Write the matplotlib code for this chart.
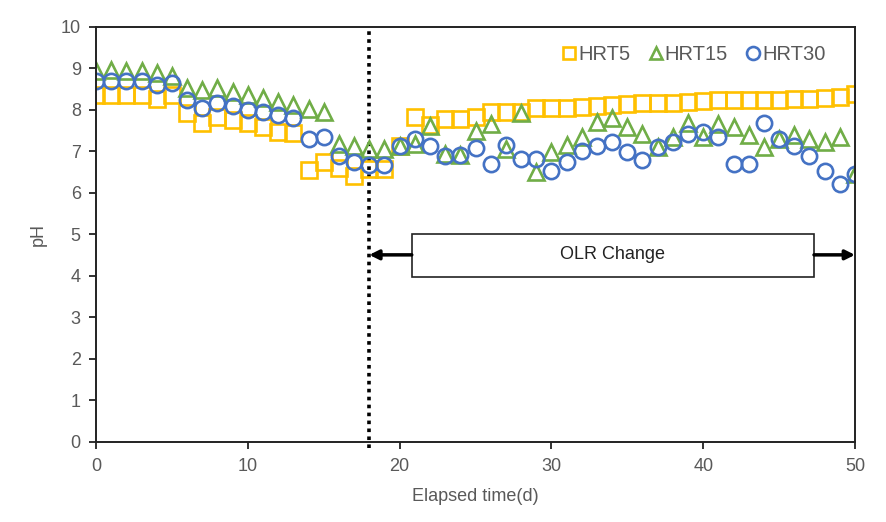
import numpy as np
import matplotlib
matplotlib.use("Agg")
import matplotlib.pyplot as plt

plt.rcParams['font.family'] = ['Liberation Sans', 'DejaVu Sans']

# Días transcurridos y pH de cada reactor
days = list(range(0, 51))

hrt5 = [8.35, 8.35, 8.35, 8.35, 8.25, 8.35, 7.92, 7.67, 7.82, 7.75,
        7.67, 7.59, 7.47, 7.43, 6.54, 6.73, 6.59, 6.41, 6.58, 6.58,
        7.13, 7.83, 7.62, 7.77, 7.77, 7.83, 7.95, 7.95, 7.95, 8.03,
        8.03, 8.05, 8.07, 8.09, 8.11, 8.13, 8.15, 8.16, 8.17, 8.19,
        8.21, 8.22, 8.23, 8.23, 8.23, 8.24, 8.25, 8.25, 8.27, 8.31,
        8.37]

hrt15 = [8.93, 8.95, 8.92, 8.92, 8.88, 8.8, 8.53, 8.47, 8.51, 8.43,
         8.35, 8.27, 8.19, 8.11, 8.01, 7.95, 7.18, 7.13, 7.06, 7.05,
         7.12, 7.18, 7.61, 6.92, 6.9, 7.49, 7.65, 7.06, 7.91, 6.5,
         6.99, 7.14, 7.35, 7.69, 7.81, 7.59, 7.41, 7.1, 7.33, 7.67,
         7.33, 7.65, 7.59, 7.39, 7.1, 7.3, 7.39, 7.3, 7.21, 7.33,
         6.46]

hrt30 = [8.69, 8.68, 8.68, 8.68, 8.59, 8.63, 8.23, 8.05, 8.15, 8.09,
         7.98, 7.95, 7.87, 7.79, 7.3, 7.33, 6.88, 6.74, 6.66, 6.66,
         7.12, 7.3, 7.12, 6.88, 6.9, 7.08, 6.69, 7.14, 6.8, 6.8,
         6.52, 6.74, 7.01, 7.12, 7.23, 6.98, 6.78, 7.1, 7.22, 7.41,
         7.45, 7.33, 6.69, 6.69, 7.68, 7.3, 7.12, 6.88, 6.52, 6.2,
         6.46]

x_ticks = [0, 10, 20, 30, 40, 50]
y_ticks = list(range(0, 11))
olr_start = 18

gray = '#595959'

fig = plt.figure(figsize=(8.86, 5.22), dpi=100)
ax = fig.add_axes([0.1084, 0.154, 0.8566, 0.795])

ms = 11
mew = 1.9
ax.plot(days, hrt5, linestyle='none', marker='s', markersize=ms, markeredgewidth=mew,
        markerfacecolor='none', markeredgecolor='#FFC000', label='HRT5')
ax.plot(days, hrt15, linestyle='none', marker='^', markersize=ms, markeredgewidth=mew,
        markerfacecolor='none', markeredgecolor='#70AD47', label='HRT15')
ax.plot(days, hrt30, linestyle='none', marker='o', markersize=ms, markeredgewidth=mew,
        markerfacecolor='none', markeredgecolor='#4472C4', label='HRT30')

# Línea punteada del cambio de OLR
ax.plot([olr_start, olr_start], [-0.15, 10], color='black', linestyle=(0, (1, 1.2)),
        linewidth=2.6, clip_on=False, zorder=1)

# Caja con el texto y flechas
box = plt.Rectangle((20.8, 3.97), 26.5, 1.03, facecolor='white', edgecolor='#222222',
                    linewidth=1.2, zorder=2)
ax.add_patch(box)
ax.text(34.05, 4.5, 'OLR Change', ha='center', va='center', fontsize=13, color='#222222',
        zorder=3)
ax.annotate('', xy=(olr_start, 4.5), xytext=(20.8, 4.5),
            arrowprops=dict(arrowstyle='-|>', color='black', lw=2.5, mutation_scale=14,
                            shrinkA=0, shrinkB=0))
ax.annotate('', xy=(50, 4.5), xytext=(47.3, 4.5),
            arrowprops=dict(arrowstyle='-|>', color='black', lw=2.5, mutation_scale=14,
                            shrinkA=0, shrinkB=0))

ax.set_xlim(0, 50)
ax.set_ylim(0, 10)
ax.set_xticks(x_ticks)
ax.set_yticks(y_ticks)
ax.tick_params(axis='both', direction='out', length=5, width=1.3, labelsize=13,
               labelcolor=gray, color='#222222')
ax.tick_params(axis='x', pad=7)
ax.tick_params(axis='y', pad=6)
for s in ax.spines.values():
    s.set_linewidth(1.4)
    s.set_color('#222222')

ax.set_xlabel('Elapsed time(d)', fontsize=13, color=gray, labelpad=9)
ax.set_ylabel('pH', fontsize=13, color=gray, labelpad=10)

ax.legend(loc='upper right', ncol=3, frameon=False, fontsize=14.5, handlelength=0.7,
          handletextpad=0.1, columnspacing=0.9, labelcolor=gray,
          bbox_to_anchor=(0.985, 1.0), markerscale=0.85)

fig.savefig('out.png', dpi=100)
